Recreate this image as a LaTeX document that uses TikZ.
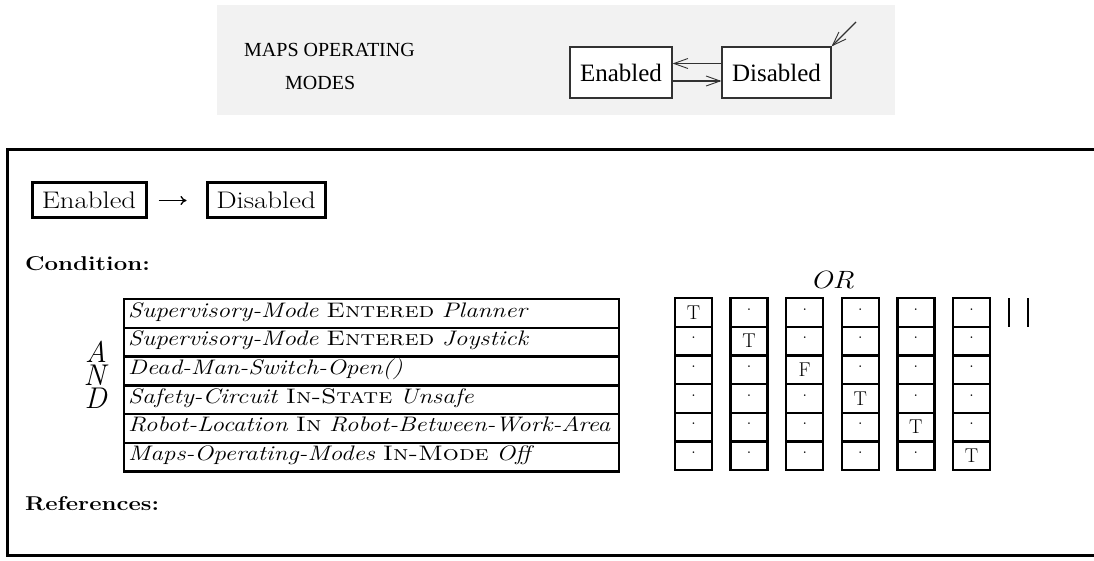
\documentclass[tikz,border=0pt]{standalone}
\usepackage{fontspec}
\usepackage{graphicx}
\usetikzlibrary{arrows.meta}
\newfontfamily\timesfont{Liberation Serif}
\definecolor{greybg}{RGB}{242,242,242}
\definecolor{gline}{RGB}{50,50,50}
\newcommand{\sx}[1]{\scalebox{1.2}[1]{#1}}
\newcommand{\fs}[1]{\fontsize{#1}{#1}\selectfont}
\newcommand{\mi}[1]{\textit{\addfontfeature{LetterSpace=4}#1}}
\tikzset{
  gbox/.style={draw=gline, line width=1.2pt, fill=white, inner sep=0pt, minimum height=51pt, font=\timesfont\fs{25}},
  garrow/.style={draw=gline, line width=1.1pt, -{Straight Barb[length=14pt,width=10pt,line width=0.9pt]}},
  gtext/.style={font=\timesfont\fs{20}, anchor=base west, inner sep=0pt},
  lbox/.style={draw, line width=3pt, inner sep=0pt, minimum height=35pt, font=\fs{24}},
  rowbox/.style={draw, line width=2.4pt, inner sep=0pt, minimum width=495pt, minimum height=28.7pt, anchor=north west},
  rowtext/.style={anchor=base west, inner sep=0pt, font=\fs{21}},
  cell/.style={draw, line width=2.4pt, inner sep=0pt, minimum width=37pt, minimum height=28.7pt, font=\fs{20}},
  head/.style={anchor=base west, inner sep=0pt, font=\fs{20}\bfseries},
  andl/.style={inner sep=0pt, font=\fs{30}, anchor=base, text height=20pt, text depth=0pt}
}
\begin{document}
\begin{tikzpicture}[x=1pt,y=-1pt]
\useasboundingbox (0,0) rectangle (1094,561);
% top grey panel
\fill[greybg] (217,5) rectangle (895,115);
\node[gtext] (t1) at (244,57) {MAPS OPERATING};
\node[gtext] (t2) at (285,90) {MODES};
\node[gbox, minimum width=102pt] (ge) at (621,72.5) {Enabled};
\node[gbox, minimum width=109pt] (gd) at (776.5,72.5) {Disabled};
\draw[garrow] ([yshift=9pt]gd.west) -- ([yshift=9pt]ge.east);
\draw[garrow] ([yshift=-8.5pt]ge.east) -- ([yshift=-8.5pt]gd.west);
\coordinate (src) at (856,22);
\draw[garrow] (src) -- (gd.north east);
% frame
\draw[line width=3pt] (1100,150) -- (7,150) -- (7,555) -- (1100,555);
\node[lbox, minimum width=114pt] (le) at (89,200.5) {\sx{Enabled}};
\node[lbox, minimum width=118pt] (ld) at (266,200.5) {\sx{Disabled}};
\draw[line width=1.3pt, -{Computer Modern Rightarrow[length=6pt,width=9pt]}, shorten <=11pt, shorten >=19pt] (le) -- (ld);
\node[head] (cond) at (25,270) {\sx{Condition:}};
\node[head] (refs) at (25,510) {\sx{References:}};
% AND
\node[andl] (la) at (96,362) {\textit{A}};
\node[andl] (ln) at (96,385) {\textit{N}};
\node[andl] (ld2) at (96,408) {\textit{D}};
% rows
\foreach \i/\txt in {
  0/{\mi{Supervisory-Mode} \textsc{Entered} \mi{Planner}},
  1/{\mi{Supervisory-Mode} \textsc{Entered} \mi{Joystick}},
  2/{\mi{Dead-Man-Switch-Open()}},
  3/{\mi{Safety-Circuit} \textsc{In-State} \mi{Unsafe}},
  4/{\mi{Robot-Location} \textsc{In} \mi{Robot-Between-Work-Area}},
  5/{\mi{Maps-Operating-Modes} \textsc{In-Mode} \textit{Off}}}{
  \node[rowbox] (r\i) at (123,298+28.7*\i) {};
  \node[rowtext] (rt\i) at (128,317+28.7*\i) {\sx{\txt}};
}
% columns
\node[font=\fs{25}, inner sep=0pt] (or) at (832,280) {\sx{\textit{OR}}};
\foreach \c in {0,...,5}{
  \foreach \r in {0,...,5}{
    \node[cell] (c\c r\r) at (693.5+55.6*\c,312.35+28.7*\r)
      {\ifnum\c=\r \ifnum\c=2 F\else T\fi\else ·\fi};
  }
}
\draw[line width=2.4pt] (1009,298) -- (1009,327);
\draw[line width=2.4pt] (1028,298) -- (1028,327);
\end{tikzpicture}
\end{document}
